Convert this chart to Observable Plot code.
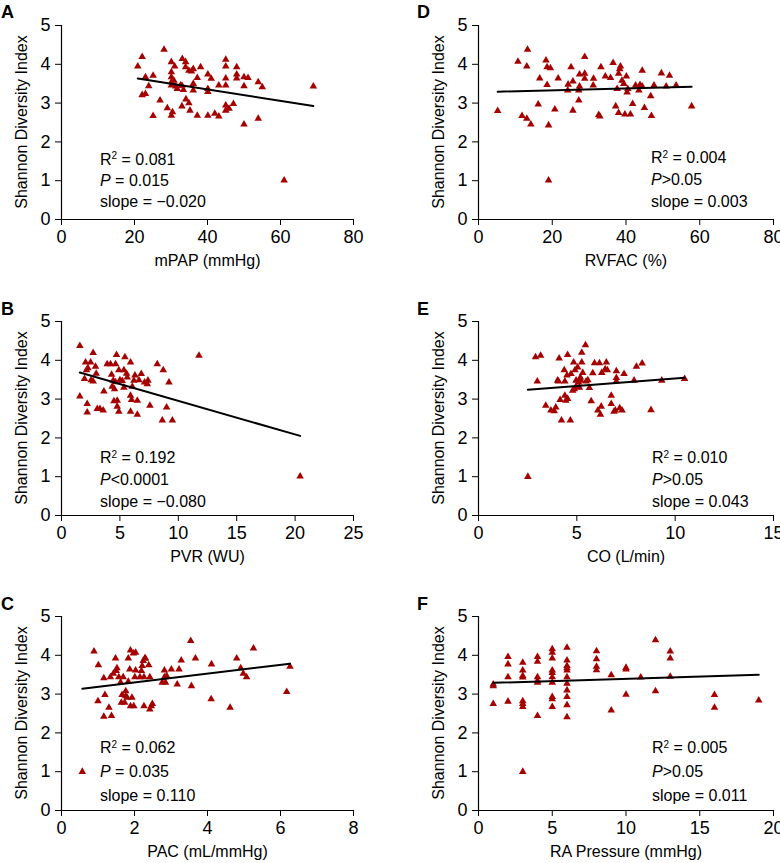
<!DOCTYPE html>
<html><head><meta charset="utf-8">
<script src="https://cdn.jsdelivr.net/npm/d3@7"></script>
<script src="https://cdn.jsdelivr.net/npm/@observablehq/plot@0.6"></script>
<style>
html,body{margin:0;padding:0;background:#fff;overflow:hidden;}
#root{position:relative;width:780px;height:863px;overflow:hidden;font-family:"Liberation Sans",Arial,Helvetica,sans-serif;color:#000;}
.panel{position:absolute;}
.letter{position:absolute;font-weight:bold;font-size:18px;line-height:18px;}
.ann{position:absolute;font-size:16px;white-space:nowrap;}
.ann sup{font-size:10px;line-height:0;position:relative;top:-0.55em;vertical-align:baseline;}
.ylab{position:absolute;font-size:16px;white-space:nowrap;line-height:16px;transform:translate(-50%,-50%) rotate(-90deg);}
</style>
</head><body><div id="root"></div>
<script>
const RED = "#a50000";
const yLabel = "Shannon Diversity Index";
const yTicks = [0,1,2,3,4,5];

// A: mPAP (mmHg)
const mpapPoints = [[20.9,3.95],[22.1,4.19],[28.1,4.38],[23,3.67],[25.1,3.71],[23.9,3.44],[22.1,3.21],[23,3.24],[25.1,2.67],[27,3.07],[29,2.87],[30.1,4.06],[30.1,3.8],[30.1,3.67],[30.1,3.54],[30.1,3.46],[30.8,3.58],[31.3,3.43],[31,3.95],[30.4,2.77],[30.1,2.68],[31.7,3.37],[32.6,3.46],[33.4,3.34],[33.1,4.14],[34,4.06],[34,3.93],[33,3.45],[33,2.92],[34.1,3.1],[34.9,3.84],[34.9,3.0],[35.2,2.81],[35.6,3.82],[36.1,3.88],[36.1,3.5],[36.1,3.33],[37.2,3.65],[37.2,2.68],[38.1,3.93],[40.1,3.74],[40.1,3.37],[40.1,3.29],[41,3.63],[40.1,2.68],[42,2.73],[43.1,2.66],[43.1,3.46],[45,4.12],[45,3.95],[45,3.64],[45,3.46],[45,2.94],[45,2.81],[45.9,2.86],[47.1,2.98],[48,3.93],[48,3.74],[48,3.64],[50,2.45],[50,3.44],[50,3.67],[51.1,3.65],[53.9,3.54],[53.9,2.6],[55,3.41],[69,3.43],[61,1.01]];
const mpapTicks = [0,20,40,60,80];

// B: PVR (WU)
const pvrPoints = [[1.57,4.37],[1.57,3.07],[2.06,3.95],[1.97,3.52],[2.14,3.75],[2.26,3.8],[2.2,2.88],[2.2,2.66],[2.49,3.95],[2.54,3.49],[2.71,3.46],[2.71,4.19],[2.91,3.84],[2.97,3.66],[3.06,2.75],[3.29,2.75],[3.57,2.71],[3.63,3.2],[3.91,3.9],[4.2,3.9],[4.29,3.63],[4.34,3.32],[4.43,3.48],[4.49,2.95],[4.54,3.26],[4.63,3.9],[4.71,4.14],[4.77,2.96],[4.77,2.81],[4.63,3.44],[4.91,3.75],[4.91,2.68],[5.0,3.49],[5.2,3.47],[5.34,3.75],[5.34,3.3],[5.43,4.08],[5.57,3.66],[5.63,3.56],[5.91,3.95],[5.91,3.09],[6.0,2.98],[5.91,2.68],[6.06,3.32],[6.2,3.48],[6.29,3.61],[6.49,2.96],[6.49,2.6],[6.63,3.49],[6.83,3.65],[7.11,3.43],[7.34,3.39],[7.4,3.48],[7.57,2.83],[8.2,3.9],[8.63,2.45],[8.71,3.75],[9.0,2.79],[9.2,3.43],[9.49,2.45],[11.77,4.12],[20.43,1.01]];
const pvrTicks = [0,5,10,15,20,25];

// C: PAC (mL/mmHg)
const pacPoints = [[0.89,4.1],[1.01,3.75],[1.0,2.82],[1.16,3.41],[1.19,2.98],[1.16,2.42],[1.3,2.65],[1.34,3.44],[1.37,2.44],[1.42,3.53],[1.48,3.92],[1.5,3.6],[1.52,3.67],[1.57,3.44],[1.62,3.3],[1.64,2.78],[1.66,2.98],[1.69,3.44],[1.73,2.78],[1.76,3.08],[1.76,2.95],[1.8,2.91],[1.83,3.92],[1.83,3.32],[1.87,3.64],[1.89,4.13],[1.89,2.69],[1.93,2.91],[1.97,4.05],[1.98,2.69],[2.01,3.44],[2.03,4.07],[2.03,3.61],[2.15,3.44],[2.19,3.6],[2.21,3.73],[2.24,3.86],[2.26,3.44],[2.28,3.92],[2.26,2.69],[2.3,3.92],[2.39,3.75],[2.42,3.44],[2.42,2.61],[2.46,2.69],[2.49,2.75],[2.76,3.3],[2.82,3.44],[2.82,3.61],[2.85,3.3],[2.88,3.47],[3.01,3.64],[3.17,3.25],[3.22,3.64],[3.28,3.87],[3.54,4.37],[3.56,3.21],[3.67,3.92],[4.11,3.77],[4.1,2.87],[4.62,2.65],[4.8,3.92],[4.91,3.67],[4.98,3.53],[5.07,3.44],[5.26,4.18],[6.17,3.06],[6.26,3.71],[0.57,1.0]];
const pacTicks = [0,2,4,6,8];

// D: RVFAC (%)
const rvfacPoints = [[5.2,2.8],[10.7,4.07],[13.1,3.95],[13.3,4.38],[11.8,2.67],[13.1,2.6],[14.2,2.45],[16.2,2.97],[16.6,3.64],[18.3,4.1],[18.6,3.93],[19.5,3.9],[18.6,3.47],[19,2.43],[19,1.01],[20.7,2.84],[21.6,3.64],[24.2,3.33],[24.3,3.48],[25.1,3.93],[25.6,3.56],[25.6,2.81],[27.2,3.07],[27.2,3.33],[27.4,3.43],[27.4,3.74],[28.8,4.19],[28.8,3.76],[28.8,3.63],[31.1,3.46],[31.2,3.63],[32.6,2.7],[32.9,2.66],[33.2,3.93],[34.4,3.69],[35.8,3.65],[36.5,4.04],[37.2,2.92],[37.6,3.37],[38,2.75],[38,3.76],[38.3,3.88],[38.5,3.95],[38.9,3.58],[39.4,3.5],[39.7,2.71],[40.1,3.69],[40.3,3.28],[40.5,3.37],[41.2,2.71],[41.8,2.98],[42.6,3.46],[43.5,3.33],[43.8,3.47],[44.4,3.84],[44.4,3.43],[45,2.88],[46.7,3.18],[46.9,2.67],[47.6,3.46],[49.6,3.77],[50.9,3.43],[51.8,3.71],[53.6,3.46],[57.8,2.92]];
const rvfacTicks = [0,20,40,60,80];

// E: CO (L/min)
const coPoints = [[2.51,1.0],[2.9,4.08],[3.16,4.12],[2.99,3.46],[3.42,2.83],[3.68,2.71],[3.85,2.69],[3.93,2.79],[4.02,3.48],[4.07,3.46],[4.1,4.05],[4.15,2.98],[4.22,2.45],[4.36,3.75],[4.39,3.46],[4.39,3.09],[4.44,2.96],[4.53,4.14],[4.5,3.61],[4.53,3.01],[4.67,2.45],[4.7,3.65],[4.79,3.22],[4.84,3.95],[4.87,3.26],[4.91,3.75],[4.96,3.48],[4.96,3.32],[5.04,3.82],[5.09,3.43],[5.13,3.3],[5.18,3.56],[5.21,3.48],[5.25,3.95],[5.25,4.2],[5.3,3.68],[5.44,4.39],[5.47,3.46],[5.56,3.49],[5.64,3.29],[5.73,2.95],[5.81,3.67],[5.9,3.93],[6.07,2.71],[6.15,3.93],[6.2,2.6],[6.24,2.81],[6.27,3.68],[6.44,3.77],[6.5,3.95],[6.55,3.75],[6.75,3.09],[6.75,2.88],[6.89,2.68],[6.96,2.71],[7.01,3.72],[7.01,3.55],[7.01,3.46],[7.18,2.77],[7.3,2.71],[7.4,3.65],[7.91,3.48],[8.03,3.84],[8.32,3.92],[8.77,2.72],[9.32,3.48],[10.48,3.52]];
const coTicks = [0,5,10,15];

// F: RA Pressure (mmHg)
const raPoints = [[1,3.21],[1,3.25],[1,2.75],[2,3.96],[2,3.77],[2,3.44],[2,2.81],[3,3.81],[3,3.61],[3,3.47],[3,3.43],[3,2.82],[3,2.75],[3,2.67],[3,1.0],[4,3.96],[4,3.84],[4,3.44],[4,3.34],[4,3.3],[4,2.44],[5,4.16],[5,4.07],[5,3.92],[5,3.61],[5,3.55],[5,3.44],[5,3.3],[5,2.93],[5,2.87],[5,2.67],[6,4.2],[6,3.87],[6,3.73],[6,3.67],[6,3.61],[6,3.44],[6,3.27],[6,3.1],[6,2.93],[6,2.72],[6,2.41],[8,4.11],[8,3.9],[8,3.71],[8,3.62],[9,3.49],[9,2.58],[10,3.68],[10,3.64],[10,2.99],[11,3.43],[12,4.39],[12,3.08],[13,4.1],[13,3.92],[13,3.45],[16,2.98],[16,2.65],[19,2.84]];
const raTicks = [0,5,10,15,20];

const panels = [
  {letter:"A", col:0, row:0, points:mpapPoints, xmax:80, ticks:mpapTicks, xlabel:"mPAP (mmHg)", r2:"0.081", pp:" = 0.015", slope:"−0.020", annLeft:100, annTop:148.5, lh:21},
  {letter:"B", col:0, row:1, points:pvrPoints, xmax:25, ticks:pvrTicks, xlabel:"PVR (WU)", r2:"0.192", pp:"<0.0001", slope:"−0.080", annLeft:100, annTop:447, lh:22},
  {letter:"C", col:0, row:2, points:pacPoints, xmax:8, ticks:pacTicks, xlabel:"PAC (mL/mmHg)", r2:"0.062", pp:" = 0.035", slope:"0.110", annLeft:100, annTop:736, lh:24},
  {letter:"D", col:1, row:0, points:rvfacPoints, xmax:80, ticks:rvfacTicks, xlabel:"RVFAC (%)", r2:"0.004", pp:">0.05", slope:"0.003", annLeft:651, annTop:147, lh:22},
  {letter:"E", col:1, row:1, points:coPoints, xmax:15, ticks:coTicks, xlabel:"CO (L/min)", r2:"0.010", pp:">0.05", slope:"0.043", annLeft:652, annTop:447, lh:22},
  {letter:"F", col:1, row:2, points:raPoints, xmax:20, ticks:raTicks, xlabel:"RA Pressure (mmHg)", r2:"0.005", pp:">0.05", slope:"0.011", annLeft:652, annTop:736, lh:24}
];

const rowTops = [0, 296, 591];
const colLefts = [0, 390];
const root = document.getElementById("root");

for (const p of panels) {
  const data = p.points.map(([x, y]) => ({x, y}));
  const ml = p.col === 0 ? 61 : 88;
  const mr = p.col === 0 ? 37 : 7;
  const chart = Plot.plot({
    width: 390, height: 280,
    marginLeft: ml, marginRight: mr, marginTop: 25, marginBottom: 61,
    style: {fontFamily: '"Liberation Sans", Arial, Helvetica, sans-serif', fontSize: "16px", color: "#000", background: "transparent", overflow: "visible"},
    x: {domain: [0, p.xmax]},
    y: {domain: [0, 5]},
    marks: [
      Plot.axisX({ticks: p.ticks, tickSize: 6, tickPadding: 5, tickFormat: d => String(d), label: null, fontSize: 18}),
      Plot.axisY({ticks: yTicks, tickSize: 6, tickPadding: 5, tickFormat: d => String(d), label: null, fontSize: 18}),
      Plot.ruleX([0], {stroke: "#000", strokeWidth: 1.2}),
      Plot.ruleY([0], {stroke: "#000", strokeWidth: 1.2}),
      Plot.dot(data, {x: "x", y: "y", symbol: "triangle", r: 2.8, fill: RED, stroke: "none"}),
      Plot.linearRegressionY(data, {x: "x", y: "y", ci: 0, stroke: "#000", strokeWidth: 2}),
      Plot.text([p.xlabel], {text: d => d, frameAnchor: "bottom", dy: 41, lineAnchor: "middle", fontSize: 16})
    ]
  });
  const wrap = document.createElement("div");
  wrap.className = "panel";
  wrap.style.left = colLefts[p.col] + "px";
  wrap.style.top = rowTops[p.row] + "px";
  wrap.appendChild(chart);
  root.appendChild(wrap);

  const ylab = document.createElement("div");
  ylab.className = "ylab";
  ylab.textContent = yLabel;
  ylab.style.left = (colLefts[p.col] + ml - 39) + "px";
  ylab.style.top = (rowTops[p.row] + 25 + 97) + "px";
  root.appendChild(ylab);

  const letter = document.createElement("div");
  letter.className = "letter";
  letter.textContent = p.letter;
  letter.style.left = (colLefts[p.col] + (p.col === 0 ? 1 : 27)) + "px";
  letter.style.top = (rowTops[p.row] + [3, 4, 4][p.row]) + "px";
  root.appendChild(letter);

  const ann = document.createElement("div");
  ann.className = "ann";
  ann.style.left = p.annLeft + "px";
  ann.style.top = p.annTop + "px";
  ann.style.lineHeight = p.lh + "px";
  ann.innerHTML = `<div>R<sup>2</sup> = ${p.r2}</div><div><i>P</i>${p.pp}</div><div>slope = ${p.slope}</div>`;
  root.appendChild(ann);
}
</script>
</body></html>
